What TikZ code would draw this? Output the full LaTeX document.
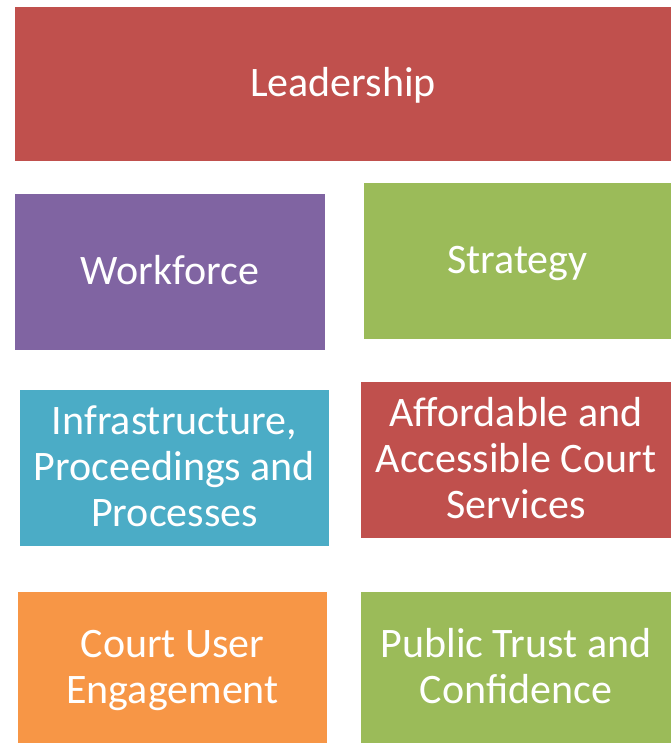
\documentclass[tikz,border=0pt]{standalone}
\usepackage{fontspec}
\setmainfont{Carlito}
\definecolor{cred}{HTML}{C0504D}
\definecolor{cpurple}{HTML}{8064A2}
\definecolor{cgreen}{HTML}{9BBB59}
\definecolor{cteal}{HTML}{4BACC6}
\definecolor{corange}{HTML}{F79646}
\newcommand\topstrut{\rule{0pt}{33pt}}
\newcommand\botstrut{\rule[-8pt]{0pt}{8pt}}
\begin{document}
\begin{tikzpicture}[x=1pt,y=-1pt,
  box/.style={rectangle,inner sep=0pt,outer sep=0pt,text=white,align=center,
    font=\fontsize{42}{46}\selectfont}]
\useasboundingbox (0,0) rectangle (671,743);
\node[box,fill=cred,minimum width=656pt,minimum height=154.5pt] (lead) at (343,84.25) {\topstrut Leadership\botstrut};
\node[box,fill=cpurple,minimum width=310pt,minimum height=156pt] (work) at (170,272) {\topstrut Workforce\botstrut};
\node[box,fill=cgreen,minimum width=307pt,minimum height=156pt] (strat) at (517.5,261) {\topstrut Strategy\botstrut};
\node[box,fill=cteal,minimum width=309pt,minimum height=156pt] (infra) at (174.5,468) {\topstrut Infrastructure,\\Proceedings and\\Processes\botstrut};
\node[box,fill=cred,minimum width=310pt,minimum height=156pt] (afford) at (516,460) {\topstrut Affordable and\\Accessible Court\\Services\botstrut};
\node[box,fill=corange,minimum width=309pt,minimum height=151pt] (court) at (172.5,667.5) {\topstrut Court User\\Engagement\botstrut};
\node[box,fill=cgreen,minimum width=310pt,minimum height=151pt] (trust) at (516,667.5) {\topstrut Public Trust and\\Confidence\botstrut};
\end{tikzpicture}
\end{document}
